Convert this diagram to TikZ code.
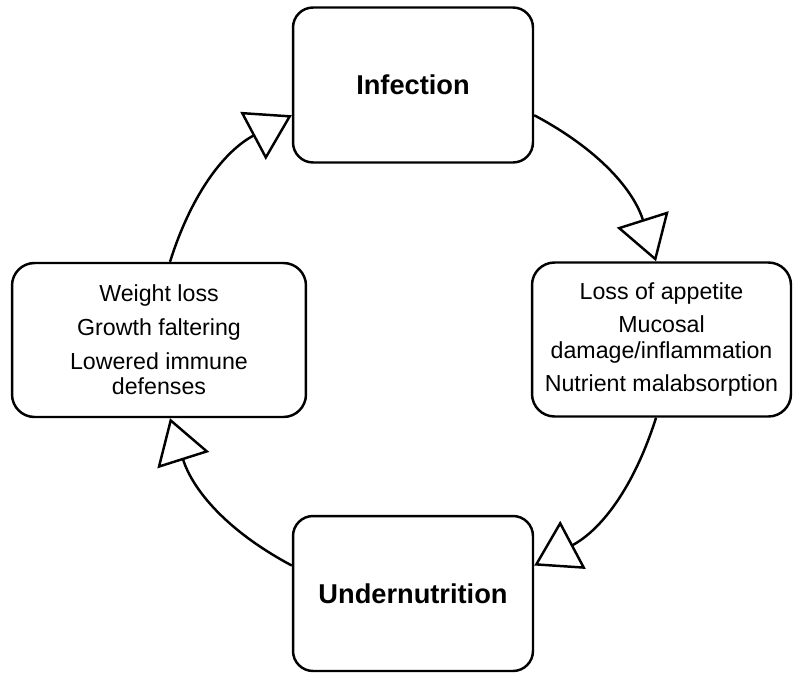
\documentclass[tikz,border=0pt]{standalone}
\usepackage{fontspec}
\setmainfont{Liberation Sans}
\usetikzlibrary{arrows.meta}

\begin{document}
\begin{tikzpicture}[
    x=0.02cm, y=-0.02cm,
    box/.style  = {draw, line width=1.4pt, rounded corners=0.45cm, align=center,
                   minimum height=3.08cm, font=\fontsize{13.2}{14.6}\selectfont},
    main/.style = {box, rounded corners=0.4cm, minimum width=4.8cm, minimum height=3.1cm,
                   font=\fontsize{15.5}{18}\selectfont\bfseries},
    arr/.style  = {line width=1.4pt, looseness=1,
                   -{Triangle[length=0.88cm, width=1.08cm, fill=white]}},
  ]
  \useasboundingbox (0,0) rectangle (795,673);
  \node[main] (inf) at (413,85) {Infection};
  \node[box, minimum width=5.18cm] (rgt) at (661.5,339.5) {Loss of appetite\\[4.5pt]Mucosal\\damage/inflammation\\[4.5pt]Nutrient malabsorption};
  \node[main] (und) at (413,593.5) {Undernutrition};
  \node[box, minimum width=5.88cm] (lft) at (159,340) {Weight loss\\[4.5pt]Growth faltering\\[4.5pt]Lowered immune\\defenses};
  \draw[arr] (inf.-14) to[out=-28, in=107.6] (rgt.94);
  \draw[arr] (rgt.-94) to[out=-107.6, in=28] (und.13);
  \draw[arr] (und.167) to[out=152, in=-72.4] (lft.-82);
  \draw[arr] (lft.82) to[out=72.4, in=-152] (inf.194);
\end{tikzpicture}
\end{document}
